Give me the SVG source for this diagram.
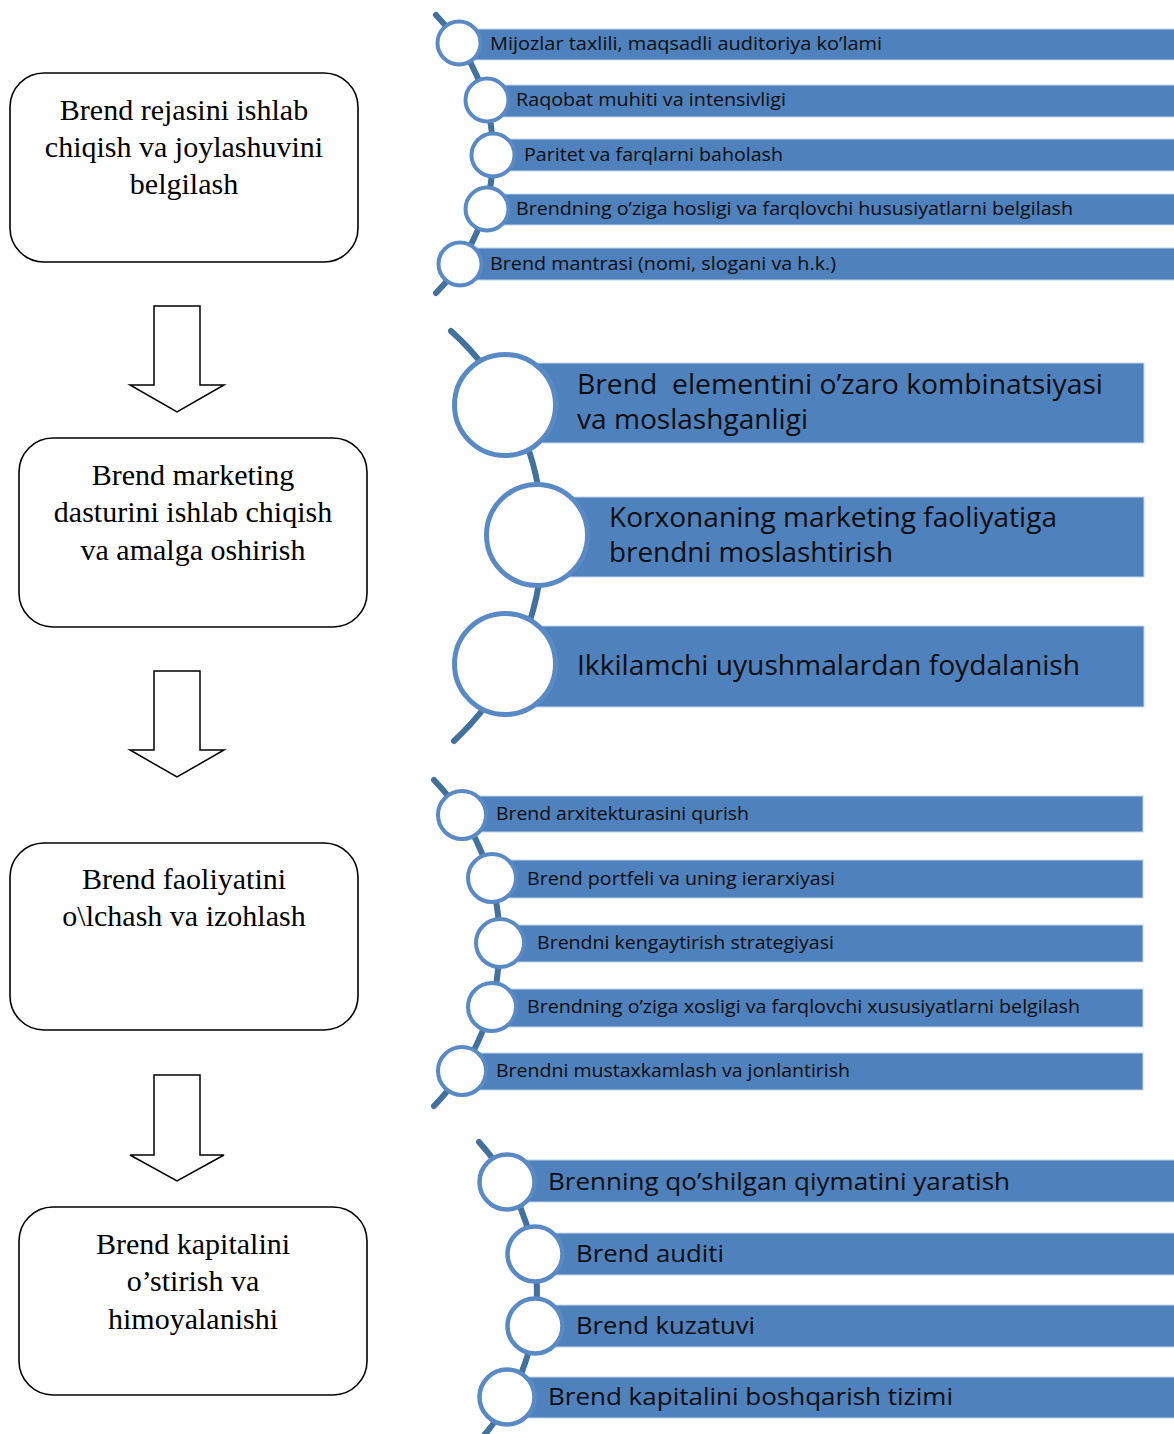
<svg xmlns="http://www.w3.org/2000/svg" width="1174" height="1434" viewBox="0 0 1174 1434">
  <style>
    .box { fill: #ffffff; stroke: #000000; stroke-width: 1.6; }
    .arrow { fill: #ffffff; stroke: #000000; stroke-width: 1.5; stroke-linejoin: miter; }
    .step { font-family: "Liberation Serif", "Times New Roman", serif; font-size: 30px; fill: #000000; text-anchor: middle; }
    .spine { fill: none; stroke: #41719c; stroke-width: 6; stroke-linecap: round; }
    .bar { fill: #4f81bd; stroke: #c5d5ea; stroke-width: 1; }
    .dot { fill: #ffffff; stroke: #5a8ac6; }
    .lbl { font-family: "Open Sans", "Noto Sans", "Liberation Sans", sans-serif; fill: #0d0d0d; }
    .s1 { font-size: 18px; }
    .s2 { font-size: 27px; }
    .s3 { font-size: 18px; }
    .s4 { font-size: 24.5px; }
  </style>

  <!-- Left column: process steps -->
  <g id="step-1">
    <rect class="box" x="10" y="73" width="348" height="189" rx="34"/>
    <text class="step" x="184" y="120">Brend rejasini ishlab</text>
    <text class="step" x="184" y="157">chiqish va joylashuvini</text>
    <text class="step" x="184" y="194">belgilash</text>
  </g>
  <g id="step-2">
    <rect class="box" x="19" y="438" width="348" height="189" rx="34"/>
    <text class="step" x="193" y="485">Brend marketing</text>
    <text class="step" x="193" y="522">dasturini ishlab chiqish</text>
    <text class="step" x="193" y="560">va amalga oshirish</text>
  </g>
  <g id="step-3">
    <rect class="box" x="10" y="843" width="348" height="187" rx="34"/>
    <text class="step" x="184" y="889">Brend faoliyatini</text>
    <text class="step" x="184" y="926">o\lchash va izohlash</text>
  </g>
  <g id="step-4">
    <rect class="box" x="19" y="1207" width="348" height="188" rx="34"/>
    <text class="step" x="193" y="1254">Brend kapitalini</text>
    <text class="step" x="193" y="1291">o’stirish va</text>
    <text class="step" x="193" y="1329">himoyalanishi</text>
  </g>

  <!-- Block arrows between steps -->
  <g id="connectors">
    <path class="arrow" d="M154,306 H200 V385 H224 L177,412 L130,385 H154 Z"/>
    <path class="arrow" d="M154,671 H200 V750 H224 L177,777 L130,750 H154 Z"/>
    <path class="arrow" d="M154,1075 H200 V1155 H224 L177,1181 L130,1155 H154 Z"/>
  </g>

  <!-- Right column, list 1 -->
  <g id="list-1">
    <path class="spine" d="M436,15 A198,198 0 0 1 436,293"/>
    <rect class="bar" x="459" y="29" width="716" height="31"/>
    <rect class="bar" x="487" y="85" width="688" height="32"/>
    <rect class="bar" x="493" y="139" width="682" height="32"/>
    <rect class="bar" x="487" y="194" width="688" height="31"/>
    <rect class="bar" x="460" y="248" width="715" height="32"/>
    <circle class="dot" cx="459" cy="43" r="21.5" stroke-width="4"/>
    <circle class="dot" cx="487" cy="100" r="21.5" stroke-width="4"/>
    <circle class="dot" cx="493" cy="155" r="21.5" stroke-width="4"/>
    <circle class="dot" cx="487" cy="209" r="21.5" stroke-width="4"/>
    <circle class="dot" cx="460" cy="264" r="21.5" stroke-width="4"/>
    <text class="lbl s1" x="490" y="50" textLength="392" lengthAdjust="spacingAndGlyphs">Mijozlar taxlili, maqsadli auditoriya ko’lami</text>
    <text class="lbl s1" x="516" y="106" textLength="270" lengthAdjust="spacingAndGlyphs">Raqobat muhiti va intensivligi</text>
    <text class="lbl s1" x="524" y="161" textLength="259" lengthAdjust="spacingAndGlyphs">Paritet va farqlarni baholash</text>
    <text class="lbl s1" x="516" y="215" textLength="557" lengthAdjust="spacingAndGlyphs">Brendning o’ziga hosligi va farqlovchi hususiyatlarni belgilash</text>
    <text class="lbl s1" x="490" y="270" textLength="346" lengthAdjust="spacingAndGlyphs">Brend mantrasi (nomi, slogani va h.k.)</text>
  </g>

  <!-- Right column, list 2 -->
  <g id="list-2">
    <path class="spine" d="M451,331 A278,278 0 0 1 454,741"/>
    <rect class="bar" x="505" y="363" width="639" height="80"/>
    <rect class="bar" x="537" y="497" width="607" height="80"/>
    <rect class="bar" x="505" y="626" width="639" height="81"/>
    <circle class="dot" cx="505" cy="405" r="50.5" stroke-width="5"/>
    <circle class="dot" cx="537" cy="535" r="50.5" stroke-width="5"/>
    <circle class="dot" cx="505" cy="664" r="50.5" stroke-width="5"/>
    <text class="lbl s2" x="577" y="394" textLength="526" lengthAdjust="spacingAndGlyphs" xml:space="preserve">Brend  elementini o’zaro kombinatsiyasi</text>
    <text class="lbl s2" x="577" y="429" textLength="231" lengthAdjust="spacingAndGlyphs">va moslashganligi</text>
    <text class="lbl s2" x="609" y="527" textLength="448" lengthAdjust="spacingAndGlyphs">Korxonaning marketing faoliyatiga</text>
    <text class="lbl s2" x="609" y="562" textLength="284" lengthAdjust="spacingAndGlyphs">brendni moslashtirish</text>
    <text class="lbl s2" x="577" y="675" textLength="503" lengthAdjust="spacingAndGlyphs">Ikkilamchi uyushmalardan foydalanish</text>
  </g>

  <!-- Right column, list 3 -->
  <g id="list-3">
    <path class="spine" d="M434,780 A235,235 0 0 1 434,1106"/>
    <rect class="bar" x="462" y="796" width="681" height="36"/>
    <rect class="bar" x="492" y="860" width="651" height="38"/>
    <rect class="bar" x="500" y="925" width="643" height="37"/>
    <rect class="bar" x="492" y="989" width="651" height="38"/>
    <rect class="bar" x="462" y="1053" width="681" height="37"/>
    <circle class="dot" cx="462" cy="815" r="24" stroke-width="4"/>
    <circle class="dot" cx="492" cy="878" r="24" stroke-width="4"/>
    <circle class="dot" cx="500" cy="943" r="24" stroke-width="4"/>
    <circle class="dot" cx="492" cy="1007" r="24" stroke-width="4"/>
    <circle class="dot" cx="462" cy="1071" r="24" stroke-width="4"/>
    <text class="lbl s3" x="496" y="820" textLength="253" lengthAdjust="spacingAndGlyphs">Brend arxitekturasini qurish</text>
    <text class="lbl s3" x="527" y="885" textLength="308" lengthAdjust="spacingAndGlyphs">Brend portfeli va uning ierarxiyasi</text>
    <text class="lbl s3" x="537" y="949" textLength="297" lengthAdjust="spacingAndGlyphs">Brendni kengaytirish strategiyasi</text>
    <text class="lbl s3" x="527" y="1013" textLength="553" lengthAdjust="spacingAndGlyphs">Brendning o’ziga xosligi va farqlovchi xususiyatlarni belgilash</text>
    <text class="lbl s3" x="496" y="1077" textLength="354" lengthAdjust="spacingAndGlyphs">Brendni mustaxkamlash va jonlantirish</text>
  </g>

  <!-- Right column, list 4 -->
  <g id="list-4">
    <path class="spine" d="M479,1142 A222,222 0 0 1 480,1440"/>
    <rect class="bar" x="507" y="1160" width="668" height="42"/>
    <rect class="bar" x="535" y="1233" width="640" height="42"/>
    <rect class="bar" x="535" y="1305" width="640" height="42"/>
    <rect class="bar" x="507" y="1377" width="668" height="41"/>
    <circle class="dot" cx="507" cy="1182" r="27.5" stroke-width="4.5"/>
    <circle class="dot" cx="535" cy="1254" r="27.5" stroke-width="4.5"/>
    <circle class="dot" cx="535" cy="1326" r="27.5" stroke-width="4.5"/>
    <circle class="dot" cx="507" cy="1397" r="27.5" stroke-width="4.5"/>
    <text class="lbl s4" x="548" y="1190" textLength="462" lengthAdjust="spacingAndGlyphs">Brenning qo’shilgan qiymatini yaratish</text>
    <text class="lbl s4" x="576" y="1262" textLength="148" lengthAdjust="spacingAndGlyphs">Brend auditi</text>
    <text class="lbl s4" x="576" y="1334" textLength="179" lengthAdjust="spacingAndGlyphs">Brend kuzatuvi</text>
    <text class="lbl s4" x="548" y="1405" textLength="405" lengthAdjust="spacingAndGlyphs">Brend kapitalini boshqarish tizimi</text>
  </g>
</svg>
